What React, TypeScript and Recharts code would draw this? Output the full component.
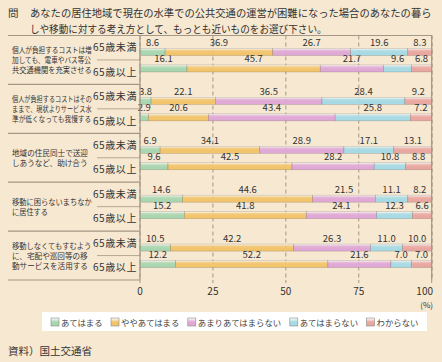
import React from 'react';
import { BarChart, Bar, XAxis, YAxis, CartesianGrid, ReferenceLine } from 'recharts';

// Question text and row labels
const questionLines = [
  'あなたの居住地域で現在の水準での公共交通の運営が困難になった場合のあなたの暮ら',
  'しや移動に対する考え方として、もっとも近いものをお選び下さい。',
];

const groupLabels = [
  ['個人が負担するコストは増', '加しても、電車やバス等公', '共交通機関を充実させる'],
  ['個人が負担するコストはその', 'ままで、現状よりサービス水', '準が低くなっても我慢する'],
  ['地域の住民同士で送迎', 'しあうなど、助け合う'],
  ['移動に困らないまちなか', 'に居住する'],
  ['移動しなくてもすむよう', 'に、宅配や巡回等の移', '動サービスを活用する'],
];

const ageGroups = ['65歳未満', '65歳以上'];

const seriesNames = ['あてはまる', 'ややあてはまる', 'あまりあてはまらない', 'あてはまらない', 'わからない'];
const seriesColors = ['#A8D6B0', '#F2C46C', '#DFA8D6', '#A6DAE5', '#E9A7A1'];

// values per row (65歳未満 / 65歳以上 for each group)
const atehamaru = [8.6, 16.1, 3.8, 2.9, 6.9, 9.6, 14.6, 15.2, 10.5, 12.2];
const yayaAtehamaru = [36.9, 45.7, 22.1, 20.6, 34.1, 42.5, 44.6, 41.8, 42.2, 52.2];
const amariAtehamaranai = [26.7, 21.7, 36.5, 43.4, 28.9, 28.2, 21.5, 24.1, 26.3, 21.6];
const atehamaranai = [19.6, 9.6, 28.4, 25.8, 17.1, 10.8, 11.1, 12.3, 11.0, 7.0];
const wakaranai = [8.3, 6.8, 9.2, 7.2, 13.1, 8.8, 8.2, 6.6, 10.0, 7.0];

const xTicks = [0, 25, 50, 75, 100];

const seriesValues = [atehamaru, yayaAtehamaru, amariAtehamaranai, atehamaranai, wakaranai];
const seriesKeys = ['s0', 's1', 's2', 's3', 's4'];

const chartData = groupLabels.flatMap((_, g) =>
  ageGroups.map((age, a) => {
    const i = g * 2 + a;
    const row: any = { row: `${g}-${a}`, age };
    seriesKeys.forEach((k, s) => { row[k] = seriesValues[s][i]; });
    return row;
  })
);

const FONT = "'Noto Sans CJK JP', 'Noto Sans', sans-serif";
const LINE = '#A39886';
const BG = '#F7E8D1';

const W = 442;
const H = 362;
const PLOT_LEFT = 140;
const PLOT_RIGHT = 432;
const PLOT_TOP = 35.5;
const PLOT_BOTTOM = 280;
const GROUP_H = (PLOT_BOTTOM - PLOT_TOP) / groupLabels.length;

// text squeezed horizontally to a given width (CJK glyphs are one em wide)
const Squeezed = ({ x, y, text, size, width, anchor = 'start' }: any) => {
  const sx = Math.min(1, width / (text.length * size));
  return (
    <text transform={`translate(${x},${y}) scale(${sx},1)`} fontSize={size} fill="#333" textAnchor={anchor} fontFamily={FONT}>
      {text}
    </text>
  );
};

const makeShape = (key: string, idx: number) => (props: any) => {
  const { x, y, width, height, index, payload } = props;
  if (!width || width <= 0) return null;
  const shift = index % 2 === 0 ? 4 : -4;
  const top = y + shift;
  return (
    <g>
      <rect x={x} y={top} width={width} height={height} fill={`url(#grad${idx})`} stroke="rgba(90,80,70,0.35)" strokeWidth={0.6} />
      <text x={x + width / 2} y={top - 2.5} textAnchor="middle" fontSize={9.5} fill="#333" fontFamily={FONT}>
        {Number(payload[key]).toFixed(1)}
      </text>
    </g>
  );
};

const AgeTick = (props: any) => {
  const { y, index } = props;
  return (
    <text x={PLOT_LEFT - 3} y={y} dy="0.35em" textAnchor="end" fontSize={10} letterSpacing={0.6} fill="#333" fontFamily={FONT}>
      {ageGroups[index % 2]}
    </text>
  );
};

const PercentTick = (props: any) => {
  const { x, y, payload } = props;
  const last = payload.value === 100;
  return (
    <text x={last ? x + 3 : x} y={y} dy="0.71em" textAnchor={last ? 'end' : 'middle'} fontSize={10} fill="#333" fontFamily={FONT}>
      {payload.value}
    </text>
  );
};

const App: React.FC = () => {
  let legendX = 51;
  const legendItems = seriesNames.map((name, i) => {
    const x = legendX;
    legendX += 8 + 2 + name.length * 8.4 + 8;
    return { name, x, color: seriesColors[i], idx: i };
  });

  return (
    <div style={{ position: 'absolute', left: 0, top: 0, width: W, height: H, background: BG, fontFamily: FONT }}>
      <div style={{ position: 'absolute', left: 0, top: 0 }}>
        <BarChart
          width={W}
          height={H}
          data={chartData}
          layout="vertical"
          barSize={7}
          margin={{ top: PLOT_TOP, right: W - PLOT_RIGHT, bottom: H - PLOT_BOTTOM - 30, left: PLOT_LEFT - 50 }}
        >
          <defs>
            {seriesColors.map((c, i) => (
              <linearGradient key={i} id={`grad${i}`} x1="0" y1="0" x2="0" y2="1">
                <stop offset="0%" stopColor="#ffffff" stopOpacity={1} />
                <stop offset="30%" stopColor={c} stopOpacity={0.8} />
                <stop offset="60%" stopColor={c} />
                <stop offset="100%" stopColor={c} />
              </linearGradient>
            ))}
          </defs>
          <CartesianGrid horizontal={false} stroke={LINE} strokeDasharray="4 3" />
          <XAxis
            type="number"
            domain={[0, 100]}
            ticks={xTicks}
            axisLine={false}
            tickLine={{ stroke: LINE }}
            tickSize={3}
            tickMargin={5}
            height={30}
            tick={<PercentTick />}
          />
          <YAxis
            type="category"
            dataKey="row"
            width={50}
            axisLine={false}
            tickLine={false}
            tick={<AgeTick />}
            interval={0}
          />
          {seriesKeys.map((k, i) => (
            <Bar
              key={k}
              dataKey={k}
              name={seriesNames[i]}
              stackId="a"
              fill={seriesColors[i]}
              shape={makeShape(k, i)}
              isAnimationActive={false}
            />
          ))}
          <ReferenceLine x={0} stroke={LINE} strokeWidth={1.2} />
          <ReferenceLine x={100} stroke={LINE} strokeWidth={1.2} />
        </BarChart>
      </div>

      <svg width={W} height={H} style={{ position: 'absolute', left: 0, top: 0, pointerEvents: 'none' }} fontFamily={FONT}>
        {/* question */}
        <text x={8} y={16.5} fontSize={10.5} fill="#333">問</text>
        <Squeezed x={30} y={16.5} size={10.5} width={402} text={questionLines[0]} />
        <Squeezed x={30} y={33} size={10.5} width={298} text={questionLines[1]} />

        {/* frame lines */}
        <line x1={8} x2={PLOT_RIGHT} y1={PLOT_TOP} y2={PLOT_TOP} stroke={LINE} strokeWidth={1.2} />
        {groupLabels.map((lines, g) => {
          const gTop = PLOT_TOP + g * GROUP_H;
          const mid = gTop + GROUP_H / 2;
          const firstY = mid - ((lines.length - 1) * 10) / 2 + 3;
          return (
            <g key={g}>
              <line x1={8} x2={PLOT_LEFT} y1={gTop + GROUP_H} y2={gTop + GROUP_H} stroke={LINE} strokeWidth={1.2} />
              <line x1={97} x2={PLOT_LEFT} y1={mid} y2={mid} stroke={LINE} strokeWidth={0.8} />
              {lines.map((t, li) => (
                <Squeezed
                  key={li}
                  x={12}
                  y={firstY + li * 10}
                  size={7.6}
                  width={t.length >= 8 ? 80 : t.length * 7.2}
                  text={t}
                />
              ))}
            </g>
          );
        })}

        <text x={433} y={308} fontSize={8} textAnchor="end" fill="#333">(%)</text>

        {/* legend */}
        <rect x={42} y={312} width={385} height={19} fill="#ffffff" />
        {legendItems.map((it) => (
          <g key={it.name}>
            <rect x={it.x} y={318} width={8} height={8} fill={`url(#lg${it.idx})`} stroke="#8a8a8a" strokeWidth={0.6} />
            <text x={it.x + 10} y={325.5} fontSize={8.4} fill="#444">{it.name}</text>
          </g>
        ))}
        <defs>
          {seriesColors.map((c, i) => (
            <linearGradient key={i} id={`lg${i}`} x1="0" y1="0" x2="0" y2="1">
              <stop offset="0%" stopColor="#ffffff" />
              <stop offset="50%" stopColor={c} />
              <stop offset="100%" stopColor={c} />
            </linearGradient>
          ))}
        </defs>

        <text x={8} y={355} fontSize={10.5} fill="#333">資料）国土交通省</text>
      </svg>
    </div>
  );
};

export default App;
